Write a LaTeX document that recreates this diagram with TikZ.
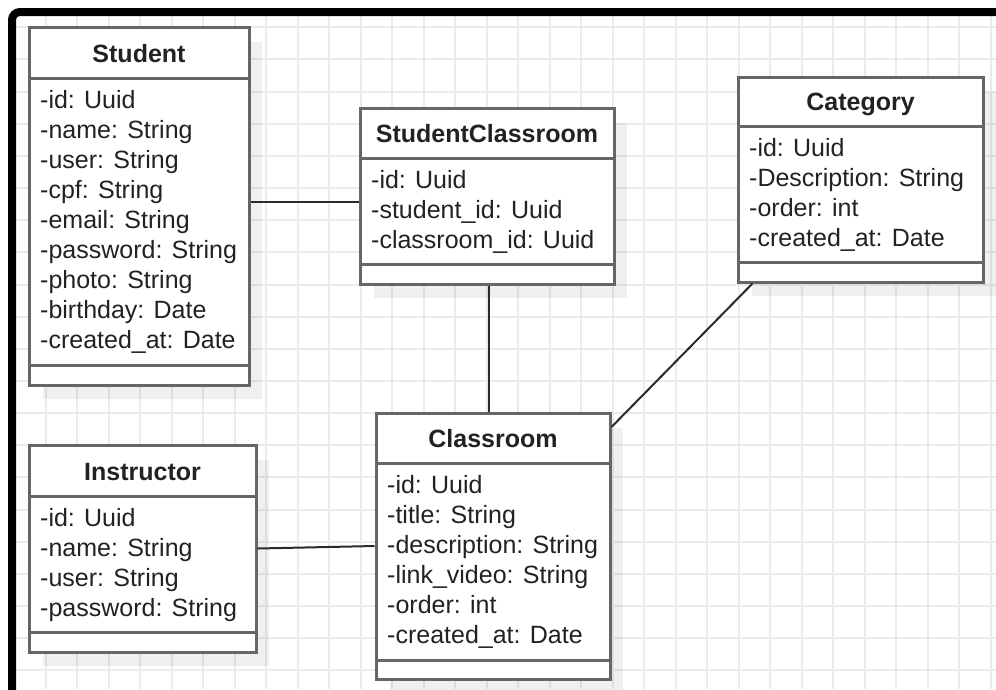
\documentclass[tikz,border=0pt]{standalone}
\usepackage{fontspec}
\setmainfont{Liberation Sans}
\usetikzlibrary{fit}
\definecolor{gridc}{HTML}{EBEBEB}
\definecolor{boxc}{HTML}{666666}
\definecolor{textc}{HTML}{222222}
\definecolor{connc}{HTML}{2A2A2A}
\tikzset{
  gridline/.style={draw=gridc, line width=2pt},
  classbox/.style={draw=boxc, line width=3pt, fill=white, inner sep=0pt, rectangle},
  classline/.style={draw=boxc, line width=3pt},
  shadowbox/.style={fill=black, fill opacity=0.06},
  titletext/.style={anchor=base, inner sep=0pt, text=textc, font=\fontsize{25}{30}\selectfont\bfseries},
  attrtext/.style={anchor=base west, inner sep=0pt, text=textc, font=\fontsize{25}{30}\selectfont},
  conn/.style={draw=connc, line width=2pt},
}
\newcommand\umlclass[9]{%
  \fill[shadowbox] ({#2+14},{#3+15}) rectangle ({#4+13},{#7+14});
  \node[classbox, fit={(#2,#3) (#4,#7)}] (#1) {};
  \draw[classline] (#2,#5) -- (#4,#5);
  \draw[classline] (#2,#6) -- (#4,#6);
  \node[titletext] (#1-title) at ({(#2+#4)/2},{#5-16}) {#8};
  \foreach \attrline [count=\i] in {#9} {\node[attrtext] (#1-a\i) at ({#2+11},{#5+30*\i}) {\attrline};}
}
\begin{document}
\begin{tikzpicture}[x=1pt, y=-1pt]
\useasboundingbox (0,0) rectangle (996,689);
\fill[white] (0,0) rectangle (996,689);
\begin{scope}
  \clip (12,12) rectangle (996,689);
  \foreach \k in {-1,...,30} \draw[gridline] ({45.7+31.5*\k},0) -- ({45.7+31.5*\k},689);
  \foreach \k in {0,...,20} \draw[gridline] (0,{27.3+32.15*\k}) -- (996,{27.3+32.15*\k});
\end{scope}
\draw[line width=8pt, black, rounded corners=8pt] (1000,12) -- (12,12) -- (12,700);

\umlclass{student}{29}{27}{249}{78}{365}{385}{Student}{-id: Uuid, -name: String, -user: String, -cpf: String, -email: String, -password: String, -photo: String, -birthday: Date, -created\_at: Date}
\umlclass{sc}{360}{108}{614}{158}{264}{284}{StudentClassroom}{-id: Uuid, -student\_id: Uuid, -classroom\_id: Uuid}
\umlclass{category}{738}{77}{983}{126}{262}{282}{Category}{-id: Uuid, -Description: String, -order: int, -created\_at: Date}
\umlclass{instructor}{29}{445}{256}{496}{632}{652}{Instructor}{-id: Uuid, -name: String, -user: String, -password: String}
\umlclass{classroom}{376}{413}{610}{463}{660}{679}{Classroom}{-id: Uuid, -title: String, -description: String, -link\_video: String, -order: int, -created\_at: Date}

\draw[conn] ([yshift=4pt]student.east) -- ([yshift=-6pt]sc.west);
\draw[conn] ([xshift=2pt]sc.south) -- ([xshift=-4pt]classroom.north);
\draw[conn] (instructor.east) -- (classroom.west);
\draw[conn] ([xshift=-108pt]category.south) -- ([yshift=119pt]classroom.east);
\end{tikzpicture}
\end{document}
